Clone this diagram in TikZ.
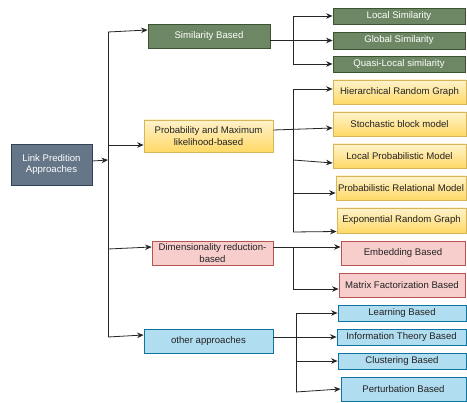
\documentclass[tikz,border=0pt]{standalone}
\usepackage{fontspec}
\setmainfont{Liberation Sans}
\usetikzlibrary{arrows.meta}
\definecolor{gfill}{HTML}{6D8764}
\definecolor{gline}{HTML}{3A5431}
\definecolor{yfillt}{HTML}{FFF2CC}
\definecolor{yfillb}{HTML}{FFD966}
\definecolor{yline}{HTML}{D6B656}
\definecolor{rfill}{HTML}{F8CECC}
\definecolor{rline}{HTML}{B85450}
\definecolor{bfill}{HTML}{B1DDF0}
\definecolor{bline}{HTML}{10739E}
\definecolor{sfill}{HTML}{647687}
\definecolor{sline}{HTML}{314354}
\definecolor{txt}{HTML}{222222}
\begin{document}
\begin{tikzpicture}[x=1pt,y=-1pt,
  box/.style={rectangle,inner sep=0pt,align=center,font=\fontsize{9.6}{11.8}\selectfont,line width=0.8pt},
  gbox/.style={box,fill=gfill,draw=gline,text=white},
  ybox/.style={box,top color=yfillt,bottom color=yfillb,draw=yline,text=txt},
  rbox/.style={box,fill=rfill,draw=rline,text=txt},
  bbox/.style={box,fill=bfill,draw=bline,text=txt},
  sbox/.style={box,fill=sfill,draw=sline,text=white},
  conn/.style={draw=black!85,line width=0.8pt},
  arr/.style={conn,-{Stealth[length=6.5pt,width=5.5pt]}}
]
\useasboundingbox (0,0) rectangle (467,403);
\fill[white] (0,0) rectangle (467,403);

% root and main categories
\node[sbox,minimum width=81pt,minimum height=41pt] (root) at (51.5,164.5) {Link Predition\\Approaches};
\node[gbox,minimum width=122pt,minimum height=24pt] (sim) at (209,36) {Similarity Based};
\node[ybox,minimum width=129pt,minimum height=32pt] (prob) at (208.5,136) {Probability and Maximum\\likelihood-based};
\node[rbox,minimum width=121pt,minimum height=24pt] (dim) at (212.5,253) {Dimensionality reduction-\\based};
\node[bbox,minimum width=129pt,minimum height=24pt] (oth) at (208.5,341) {other approaches};

% similarity children
\node[gbox,minimum width=132pt,minimum height=16pt] (loc) at (399,16) {Local Similarity};
\node[gbox,minimum width=132pt,minimum height=17pt] (glo) at (399,40.5) {Global Similarity};
\node[gbox,minimum width=132pt,minimum height=16pt] (qua) at (399,64) {Quasi-Local similarity};

% probability children
\node[ybox,minimum width=133pt,minimum height=24pt] (hrg) at (399.5,92) {Hierarchical Random Graph};
\node[ybox,minimum width=133pt,minimum height=24pt] (sbm) at (399.5,124) {Stochastic block model};
\node[ybox,minimum width=133pt,minimum height=24pt] (lpm) at (399.5,156) {Local Probabilistic Model};
\node[ybox,minimum width=130pt,minimum height=24pt] (prm) at (401,188) {Probabilistic Relational Model};
\node[ybox,minimum width=129pt,minimum height=25pt] (erg) at (401.5,220.5) {Exponential Random Graph};

% dimensionality children
\node[rbox,minimum width=124pt,minimum height=24pt] (emb) at (403,253) {Embedding Based};
\node[rbox,minimum width=126pt,minimum height=24pt] (mfb) at (402,285) {Matrix Factorization Based};

% other children
\node[bbox,minimum width=128pt,minimum height=16pt] (lrn) at (402,313) {Learning Based};
\node[bbox,minimum width=129pt,minimum height=16pt] (itb) at (401.5,337) {Information Theory Based};
\node[bbox,minimum width=128pt,minimum height=16pt] (clu) at (402,361) {Clustering Based};
\node[bbox,minimum width=125pt,minimum height=24pt] (per) at (403.5,389) {Perturbation Based};

% trunk
\coordinate (t1) at (108,32);
\coordinate (t2) at (108,145);
\coordinate (t3) at (108,249);
\coordinate (t4) at (108,337);
\coordinate (tr) at (108,160);
\draw[conn] (t1) -- (t4);
\draw[arr] ([yshift=3.5pt]root.east) -- (tr);
\draw[arr] (t1) -- ([yshift=6pt]sim.west);
\draw[arr] (t2) -- ([yshift=-9pt]prob.west);
\draw[arr] (t3) -- ([yshift=6pt]dim.west);
\draw[arr] (t4) -- ([yshift=6pt]oth.west);

% similarity branch
\coordinate (s1) at (293,16);
\coordinate (s2) at (293,64);
\draw[conn] (s1) -- (s2);
\draw[arr] ([yshift=-4.5pt]sim.east) -- (glo.west);
\draw[arr] (s1) -- (loc.west);
\draw[arr] (s2) -- (qua.west);

% probability branch
\coordinate (p1) at (293,89);
\coordinate (p3) at (293,160);
\coordinate (p4) at (293,193);
\coordinate (p5) at (293,232);
\draw[conn] (p1) -- (p5);
\draw[arr] ([yshift=6pt]prob.east) -- ([yshift=-4pt]sbm.west);
\draw[arr] (p1) -- ([yshift=3pt]hrg.west);
\draw[arr] (p3) -- ([yshift=-7pt]lpm.west);
\draw[arr] (p4) -- ([yshift=-5pt]prm.west);
\draw[arr] (p5) -- ([yshift=-11pt]erg.west);

% dimensionality branch
\coordinate (d1) at (293,247);
\coordinate (d2) at (293,289);
\draw[conn] (d1) -- (d2);
\draw[arr] ([yshift=6pt]dim.east) -- ([yshift=6pt]emb.west);
\draw[arr] (d2) -- ([yshift=-4pt]mfb.west);

% other branch
\coordinate (o1) at (296,313);
\coordinate (o3) at (296,361);
\coordinate (o4) at (296,392);
\draw[conn] (o1) -- (o4);
\draw[arr] ([yshift=4pt]oth.east) -- (itb.west);
\draw[arr] (o1) -- (lrn.west);
\draw[arr] (o3) -- (clu.west);
\draw[arr] (o4) -- (per.west);
\end{tikzpicture}
\end{document}
